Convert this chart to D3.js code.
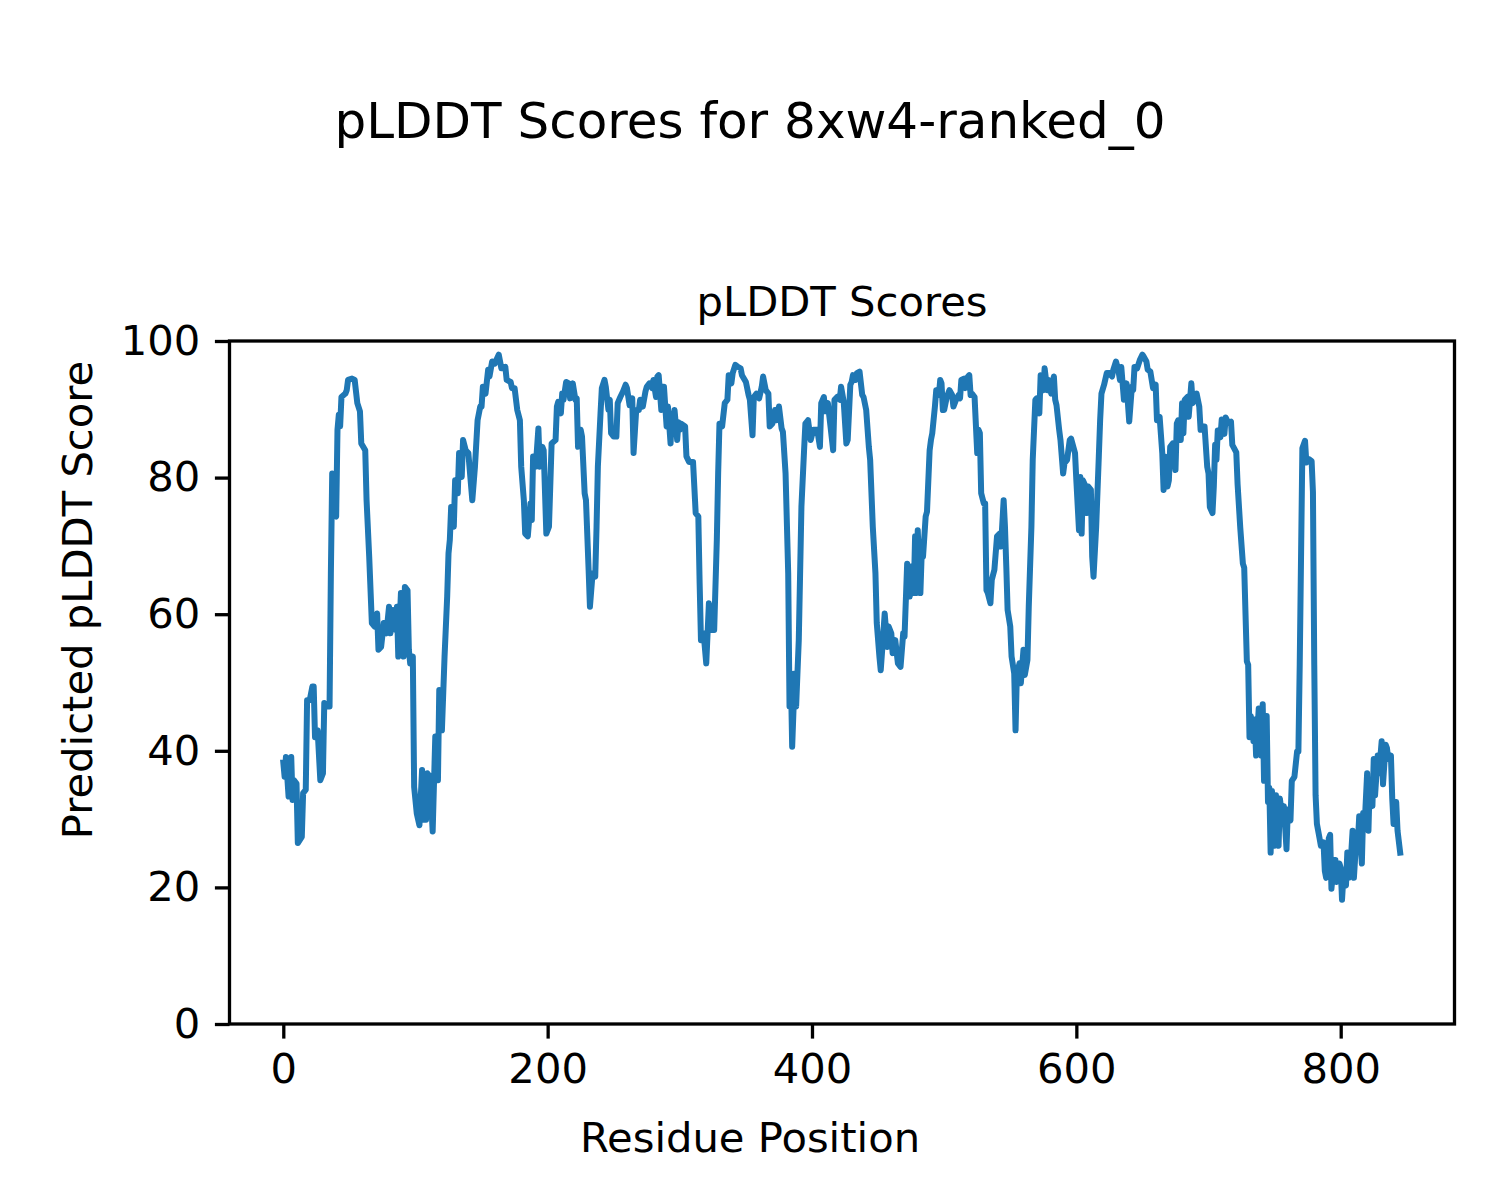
<!DOCTYPE html>
<html>
<head>
<meta charset="utf-8">
<script src="https://cdn.jsdelivr.net/npm/d3@7"></script>
<style>
  body { margin: 0; background: #fff; }
  text { font-family: "DejaVu Sans", sans-serif; fill: #000; }
</style>
</head>
<body>
<div id="chart"></div>
<script>
// residue positions and pLDDT scores
const residues = [
  0,1,2,4,6,7,8,10,11,14,15,17,18,20,22,23,24,26,28,30,31,33,35,36,37,38,40,41,42,43,44,47,48,49,52,54,56,58,59,62,63,65,67,69,71,72,74,76,78,80,81,83,85,86,87,89,91,92,
  94,95,96,98,99,101,103,105,106,108,109,111,113,115,117,118,120,122,124,125,126,127,129,130,132,133,135,136,138,140,143,145,147,149,150,151,153,155,156,158,160,163,165,168,169,172,173,175,177,179,180,182,183,185,187,188,189,191,193,194,196,197,199,201,203,
  206,207,208,210,211,212,214,216,217,219,221,222,223,225,226,228,229,231,232,234,236,237,238,240,241,243,244,246,247,248,250,252,253,255,257,259,260,262,264,265,267,269,270,272,274,275,277,279,280,282,283,284,286,287,288,290,291,293,294,295,296,298,
  299,300,301,304,305,307,310,312,314,315,316,318,320,322,324,326,328,329,330,332,334,336,337,339,340,342,344,346,347,350,352,353,355,356,358,360,362,363,365,367,368,370,372,373,375,377,378,380,382,383,384,385,387,388,390,392,394,395,397,399,401,
  404,406,407,409,410,412,414,416,417,419,421,422,424,426,427,429,430,431,433,434,436,438,439,441,443,444,446,448,449,451,452,454,455,457,458,460,461,463,465,467,469,470,472,474,475,477,478,479,480,482,483,484,486,487,489,490,491,493,494,496,497,498,499,
  500,502,504,506,507,509,511,512,513,515,516,518,519,520,521,523,525,526,527,528,530,531,532,533,535,536,538,540,542,543,545,546,547,548,550,551,553,554,555,557,558,560,561,563,564,566,567,569,570,572,573,575,576,578,579,581,583,584,585,587,588,590,591,593,595,596,599,
  600,602,603,604,605,607,608,609,611,612,613,615,617,618,619,621,623,625,627,628,630,632,633,634,636,638,639,640,642,643,644,646,648,650,651,653,654,656,658,660,661,663,665,666,667,669,670,671,673,675,676,677,679,680,681,682,684,685,687,688,690,691,693,694,696,697,699,700,701,
  703,704,705,706,707,709,710,712,713,715,717,718,721,722,724,726,727,729,730,731,732,734,735,736,738,740,741,742,744,745,746,747,748,750,751,753,754,756,757,759,760,762,763,765,767,768,769,770,771,773,774,776,778,779,
  780,781,782,784,785,787,788,789,791,792,793,795,796,797,799,800,801,802,804,805,806,808,809,810,812,813,814,816,817,818,820,821,822,824,825,826,828,829,831,832,834,835,836,838,839,840,842,843,845
];
const scores = [
  38.3,36.2,39.1,33.3,39.1,32.8,35.7,35.2,26.5,27.4,33.8,34.3,47.4,47.4,49.4,49.4,42,43,35.7,36.7,47,46.5,46.5,66,80.6,74.8,74.3,87,89.2,87.5,91.8,92.3,92.8,94.3,94.5,94.3,90.9,89.7,85,84,76.7,68.4,58.7,58.2,60.1,54.8,55.2,58.7,57.2,61.1,57.2,60.6,57.7,61.1,53.8,63.1,53.8,64,
  63.5,54.8,52.8,53.8,34.7,30.8,29.1,37.2,29.9,29.9,36.7,36.2,28.2,42.1,35.7,48.9,43,53.8,62.6,68.9,70.9,75.7,72.8,79.6,77.7,83.6,80.1,85.5,84,83.6,76.7,81.6,88.4,90.4,90.4,93.3,92.3,95.8,94.8,97,96.7,98,96,96.2,94.3,94,93.1,93.1,89.9,88.4,81.6,76.7,71.8,71.4,76.2,73.8,83.1,81.6,87.2,81.6,84.5,84,71.8,72.8,85,
  85.5,90.4,91.1,89.4,92.3,91.4,94,93.8,91.6,93.8,91.4,91.6,84.5,87,86,77.7,76.7,66.5,61.1,66,65.5,72.8,81.6,89.4,93.1,94.3,93.3,89.9,91.4,86.5,86,86,90.9,91.8,92.6,93.6,93.1,90.6,91.6,83.6,89.9,89.9,91.4,90.4,92.6,93.3,93.8,93.1,94.3,91.8,94.8,95,89.9,93.3,93.3,87.5,90.4,85,89.4,86.5,89.9,85.5,
  88.1,87,87.9,87.5,83.1,82.3,82.3,74.8,74.3,64.5,56.2,57.2,52.8,61.6,57.7,57.7,70.9,80.6,87.9,87.5,90.9,91.4,95,93.8,95.3,96.5,96.2,96,95,94,92.1,91.4,86.2,91.8,92.3,91.6,93.3,94.8,92.8,92.3,87.5,87.9,89.9,88.4,90.4,87.2,86.7,80.6,66,46.5,51.3,40.6,51.3,46.5,56.2,75.7,84,87.9,88.4,85.5,87,
  87,84.5,90.9,91.8,89.7,90.9,87.5,84,91.4,91.8,91.4,93.3,91.1,85,85.5,93.6,94,95,94.3,95.3,95.5,92.1,91.8,89.9,84.5,82.6,72.8,66,58.7,53.8,51.8,57.2,60.1,55.2,58.2,57.2,54.3,56.2,52.8,52.3,57.2,56.7,67.4,62.6,67,63.1,71.4,63.1,72.3,63.1,68.9,68.4,74.3,75,84,85.5,86.5,90.4,92.8,92.1,94.3,93.8,89.9,
  89.9,91.8,92.8,92.1,90.4,91.4,92.1,91.6,94.3,94.5,93.1,94.8,95,92.1,92.3,91.8,83.6,87,86.5,77.7,76.2,76.2,63.5,63.1,61.6,65,66.5,71.4,71.8,69.9,76.7,72.8,67,60.6,58.2,53.8,51.3,43,51.3,52.8,49.9,54.8,51.1,53.3,61.1,72.8,82.6,91.4,91.6,89.4,95,92.8,96,92.8,94.3,92.3,94.8,91.4,90.6,87,85.5,80.6,82.1,82.6,85.5,85.7,83.6,
  79.6,72.3,80.1,71.8,79.6,78.7,74.8,78.7,78.2,68.4,65.5,72.8,83.1,88.4,92.3,93.6,95.3,95.3,94.8,95.8,97,95.5,94.3,96.2,91.4,93.8,90.9,88.2,93.3,92.8,96.2,96,97.2,98,97.7,97,95.8,95.5,93.1,93.6,88.4,88.9,83.6,78.2,83.1,78.7,79.6,84.5,85,81.1,87.9,88.4,85.5,90.9,86.5,91.4,91.8,88.9,93.8,90.9,91.8,92.3,90.4,87,87.5,87.5,81.6,80.6,75.7,
  74.8,78.7,84.8,82.6,86.9,85.9,88.5,86.4,88.8,88,88.2,84.8,83.7,79,72.7,67.4,66.8,53.1,52.6,42,45.1,41.4,44.6,39.3,46.2,39.3,46.8,35.6,45.1,32.5,34.6,25.1,34.1,26.1,33.5,26.1,33,29.8,31.9,25.6,31.4,29.8,35.6,36.2,39.9,39.9,52.6,68.4,84.3,85.4,82.2,82.7,82.4,77.9,
  52.6,33.5,29.3,27.2,26.1,26.6,22.4,21.4,27.2,27.7,19.8,24,24,20.8,23.5,22.9,18.2,21.4,20.3,25.1,21.4,25.1,28.3,21.4,27.7,26.6,30.4,23.5,30.9,28.7,36.7,28.3,35.6,31.9,38.8,33.5,39.3,36.7,41.4,35.1,40.9,40.4,38.8,39.3,33,29.3,32.5,28.3,25.1
];
const xTicks = [0, 200, 400, 600, 800];
const yTicks = [0, 20, 40, 60, 80, 100];

const width = 1500, height = 1200;
const plotLeft = 229.5, plotRight = 1454.5, plotTop = 341, plotBottom = 1024;

const svg = d3.select('#chart').append('svg')
  .attr('width', width)
  .attr('height', height)
  .style('background', '#fff');

const x = d3.scaleLinear().domain([-40.7, 886.1]).range([plotLeft, plotRight]);
const y = d3.scaleLinear().domain([0, 100]).range([plotBottom, plotTop]);

const points = residues.map((r, i) => ({ r: r, s: scores[i] }));

// line
const line = d3.line()
  .defined(d => d.s !== undefined)
  .x(d => x(d.r))
  .y(d => y(d.s));
svg.append('path')
  .datum(points)
  .attr('fill', 'none')
  .attr('stroke', '#1f77b4')
  .attr('stroke-width', 6)
  .attr('stroke-linejoin', 'round')
  .attr('stroke-linecap', 'square')
  .attr('d', line);

// axes
const xAxis = svg.append('g')
  .attr('transform', 'translate(0,' + plotBottom + ')')
  .call(d3.axisBottom(x).tickValues(xTicks).tickSize(14.6).tickPadding(14.6));
const yAxis = svg.append('g')
  .attr('transform', 'translate(' + plotLeft + ',0)')
  .call(d3.axisLeft(y).tickValues(yTicks).tickSize(14.6).tickPadding(14.6));

[xAxis, yAxis].forEach(g => {
  g.select('.domain').remove();
  g.selectAll('.tick line').attr('stroke', '#000').attr('stroke-width', 3.3);
  g.selectAll('.tick text')
    .style('font-family', '"DejaVu Sans", sans-serif')
    .style('font-size', '41.7px')
    .attr('fill', '#000');
});

// frame
svg.append('rect')
  .attr('x', plotLeft)
  .attr('y', plotTop)
  .attr('width', plotRight - plotLeft)
  .attr('height', plotBottom - plotTop)
  .attr('fill', 'none')
  .attr('stroke', '#000')
  .attr('stroke-width', 3.3);

// labels (figure-level, centred on the page)
svg.append('text')
  .attr('x', width / 2)
  .attr('y', 1152)
  .attr('text-anchor', 'middle')
  .style('font-size', '41.7px')
  .text('Residue Position');

svg.append('text')
  .attr('transform', 'translate(92,' + height / 2 + ') rotate(-90)')
  .attr('text-anchor', 'middle')
  .style('font-size', '41.7px')
  .text('Predicted pLDDT Score');

svg.append('text')
  .attr('x', (plotLeft + plotRight) / 2)
  .attr('y', 316)
  .attr('text-anchor', 'middle')
  .style('font-size', '41.7px')
  .text('pLDDT Scores');

svg.append('text')
  .attr('x', width / 2)
  .attr('y', 138)
  .attr('text-anchor', 'middle')
  .style('font-size', '50px')
  .text('pLDDT Scores for 8xw4-ranked_0');
</script>
</body>
</html>
